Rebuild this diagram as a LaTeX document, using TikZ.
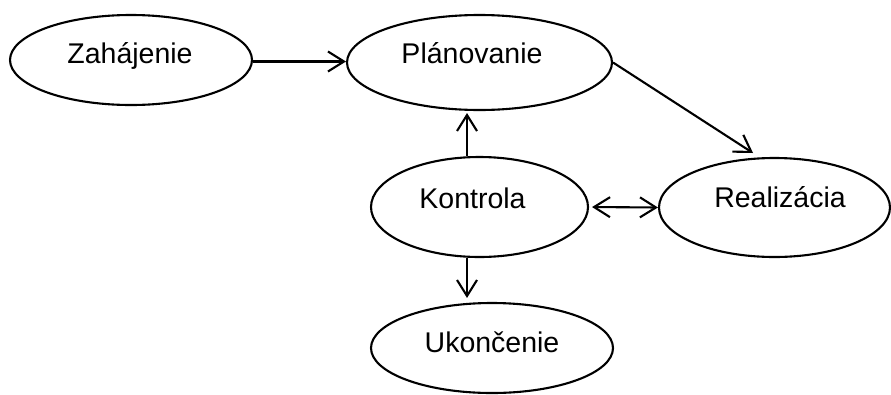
\documentclass[tikz,border=0pt]{standalone}
\usepackage{fontspec}
\setmainfont{Liberation Sans}
\usetikzlibrary{shapes.geometric,arrows.meta}
\begin{document}
\begin{tikzpicture}[x=1pt,y=-1pt,
  ell/.style={draw=black,line width=2.1pt,ellipse,inner sep=0pt},
  lbl/.style={anchor=base,inner sep=0pt,font=\fontsize{28.5}{34}\selectfont},
  tip/.style={},
  arr/.style={line width=2.1pt,-{Straight Barb[length=16pt,width=20pt,line width=2.1pt]}},
  darr/.style={line width=2.1pt,{Straight Barb[length=16pt,width=20pt,line width=2.1pt]}-{Straight Barb[length=16pt,width=20pt,line width=2.1pt]}}]
\useasboundingbox (0,0) rectangle (891,394);
\fill[white] (0,0) rectangle (891,394);
% ellipses
\node[ell,minimum width=242pt,minimum height=90pt] (zah) at (131,60) {};
\node[ell,minimum width=265pt,minimum height=95pt] (plan) at (479.5,62.5) {};
\node[ell,minimum width=217pt,minimum height=100pt] (kon) at (479.5,207) {};
\node[ell,minimum width=231pt,minimum height=99pt] (real) at (774.5,207.5) {};
\node[ell,minimum width=242pt,minimum height=90pt] (ukon) at (492,348) {};
% texts
\node[lbl] (zahT) at (130,63) {Zahájenie};
\node[lbl] (planT) at (472,63) {Plánovanie};
\node[lbl] (konT) at (472.5,208) {Kontrola};
\node[lbl] (realT) at (780,207) {Realizácia};
\node[lbl] (ukonT) at (492,352) {Ukončenie};
% connectors
\coordinate (vx) at (467,0);
\coordinate (hy) at (0,61.5);
\coordinate (dtip) at (753,153);
\draw[arr] (zah.east |- hy) -- (plan.west |- hy);
\draw[arr] (plan.east) -- (dtip);
\draw[arr] (kon.north -| vx) -- ([yshift=-2pt]plan.south -| vx);
\draw[arr,shorten >=4pt] (kon.south -| vx) -- (ukon.north -| vx);
\draw[darr,shorten <=3pt] (kon.east) -- (real.west);
\end{tikzpicture}
\end{document}
